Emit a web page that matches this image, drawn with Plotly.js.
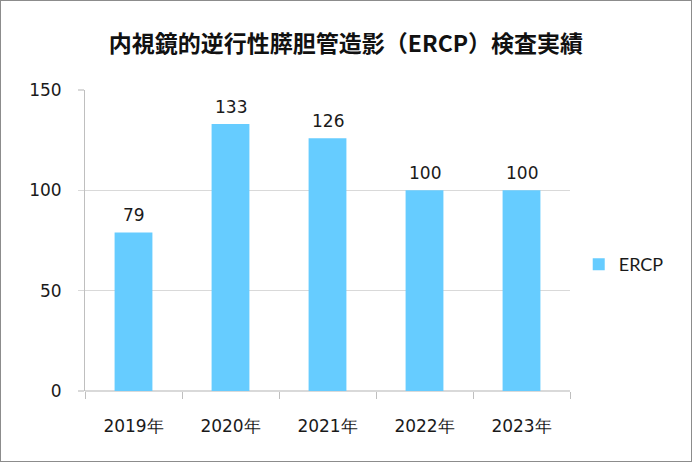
<!DOCTYPE html>
<html>
<head>
<meta charset="utf-8">
<script src="https://cdn.plot.ly/plotly-3.0.1.min.js"></script>
<style>
  html, body { margin: 0; padding: 0; background: #fff; }
  #wrap { width: 692px; height: 462px; box-sizing: border-box; border: 1px solid #8c8c8c; position: relative; overflow: hidden; }
  #chart { width: 690px; height: 460px; }
</style>
</head>
<body>
<div id="wrap"><div id="chart"></div></div>
<script>
const categories = ['2019年', '2020年', '2021年', '2022年', '2023年'];
const seriesName = 'ERCP';
const ercpValues = [79, 133, 126, 100, 100];
const yTickValues = [0, 50, 100, 150];

const tickFont = { family: 'DejaVu Sans, Verdana, sans-serif', size: 17, color: '#1a1a1a' };

const trace = {
  type: 'bar',
  name: seriesName,
  x: categories,
  y: ercpValues,
  marker: { color: '#66ccff' },
  hoverinfo: 'none'
};

const valueLabels = categories.map((c, i) => ({
  x: c,
  y: ercpValues[i],
  xref: 'x',
  yref: 'y',
  text: String(ercpValues[i]),
  showarrow: false,
  yanchor: 'bottom',
  yshift: 5,
  font: tickFont
}));

const layout = {
  width: 690,
  height: 460,
  margin: { l: 84, r: 121, t: 89, b: 70, pad: 0 },
  paper_bgcolor: '#ffffff',
  plot_bgcolor: '#ffffff',
  bargap: 0.61,
  showlegend: true,
  annotations: valueLabels,
  title: {
    text: '<b>内視鏡的逆行性膵胆管造影（ERCP）検査実績</b>',
    font: { family: 'Noto Sans CJK JP, sans-serif', size: 23, color: '#111111' },
    x: 0.5, xanchor: 'center',
    y: 1 - 43 / 460, yanchor: 'middle', yref: 'container'
  },
  xaxis: {
    type: 'category',
    tickfont: tickFont,
    showgrid: false,
    showline: false,
    ticks: 'outside',
    tickson: 'boundaries',
    ticklen: 7,
    tickcolor: '#bfbfbf',
    tickwidth: 1,
    ticklabelstandoff: 23,
    fixedrange: true
  },
  yaxis: {
    range: [0, 150],
    tickvals: yTickValues,
    ticktext: yTickValues.map(String),
    tickfont: tickFont,
    showgrid: true,
    gridcolor: '#d9d9d9',
    gridwidth: 1.3,
    zeroline: true,
    zerolinecolor: '#d9d9d9',
    zerolinewidth: 2,
    showline: true,
    linecolor: '#bfbfbf',
    linewidth: 1,
    ticks: 'outside',
    ticklen: 6,
    tickcolor: '#d9d9d9',
    tickwidth: 1.3,
    ticklabelstandoff: 13,
    fixedrange: true
  },
  legend: {
    x: 1.018, xanchor: 'left',
    y: 0.42, yanchor: 'middle',
    font: { family: 'Lato, sans-serif', size: 18, color: '#1a1a1a' },
    bgcolor: 'rgba(0,0,0,0)'
  }
};

Plotly.newPlot('chart', [trace], layout, { displayModeBar: false, staticPlot: true });
</script>
</body>
</html>
